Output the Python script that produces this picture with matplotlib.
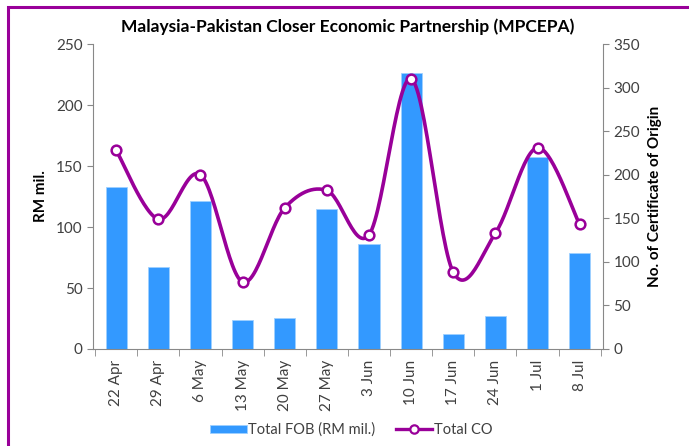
import numpy as np
import matplotlib.pyplot as plt
from matplotlib.patches import Rectangle

# Weekly data
weeks = ["22 Apr", "29 Apr", "6 May", "13 May", "20 May", "27 May",
         "3 Jun", "10 Jun", "17 Jun", "24 Jun", "1 Jul", "8 Jul"]
total_fob = [133, 67, 121, 24, 25, 115, 86, 226, 12, 27, 157, 79]
total_co = [228, 149, 200, 77, 162, 182, 131, 310, 88, 133, 231, 143]

BAR_COLOR = "#3399ff"
LINE_COLOR = "#990099"
TEXT_COLOR = "#404040"


def smooth_curve(x, y, steps=30):
    # Excel-style smoothed line: cubic Bezier segments with Catmull-Rom control points
    x = np.asarray(x, dtype=float)
    y = np.asarray(y, dtype=float)
    xs, ys = [], []
    n = len(x)
    for i in range(n - 1):
        p0 = np.array([x[max(i - 1, 0)], y[max(i - 1, 0)]])
        p1 = np.array([x[i], y[i]])
        p2 = np.array([x[i + 1], y[i + 1]])
        p3 = np.array([x[min(i + 2, n - 1)], y[min(i + 2, n - 1)]])
        c1 = p1 + (p2 - p0) / 6
        c2 = p2 - (p3 - p1) / 6
        t = np.linspace(0, 1, steps)[:, None]
        pts = ((1 - t) ** 3) * p1 + 3 * ((1 - t) ** 2) * t * c1 + 3 * (1 - t) * t ** 2 * c2 + t ** 3 * p2
        xs.extend(pts[:, 0])
        ys.extend(pts[:, 1])
    return np.array(xs), np.array(ys)


plt.rcParams['font.family'] = ['Lato', 'DejaVu Sans']

fig = plt.figure(figsize=(6.89, 4.46), dpi=100)
ax = fig.add_axes([0.135, 0.2175, 0.74, 0.6838])

# purple frame round the chart
fig.patches.append(Rectangle((8 / 689, -0.1), 1.2, 1 - 7 / 446 + 0.1, transform=fig.transFigure,
                             fill=False, edgecolor=LINE_COLOR, linewidth=2.2))

x = np.arange(len(weeks))
bars = ax.bar(x, total_fob, width=0.5, color=BAR_COLOR, edgecolor="#9fd0ff",
              linewidth=0.6, label="Total FOB (RM mil.)", zorder=2)

ax.set_xlim(-0.55, len(weeks) - 0.45)
ax.set_ylim(0, 250)
ax.set_yticks(np.arange(0, 251, 50))
ax.set_xticks(x)
ax.set_xticklabels(weeks, rotation=90)
ax.set_xticks(np.arange(-0.5, len(weeks), 1), minor=True)
ax.tick_params(axis='x', which='major', length=0, pad=8, labelsize=11, labelcolor=TEXT_COLOR)
ax.tick_params(axis='x', which='minor', length=5, color="#888888", direction='out')
ax.tick_params(axis='y', length=4, color="#888888", labelsize=11, labelcolor=TEXT_COLOR)
for side in ['top', 'right']:
    ax.spines[side].set_visible(False)
for side in ['left', 'bottom']:
    ax.spines[side].set_color("#888888")
ax.set_ylabel("RM mil.", fontsize=11, fontweight='bold', color="black", labelpad=6)

ax2 = ax.twinx()
ax2.set_ylim(0, 350)
ax2.set_yticks(np.arange(0, 351, 50))
ax2.tick_params(axis='y', length=4, color="#888888", labelsize=11, labelcolor=TEXT_COLOR)
for side in ['top', 'left', 'bottom']:
    ax2.spines[side].set_visible(False)
ax2.spines['right'].set_color("#888888")
ax2.set_ylabel("No. of Certificate of Origin", fontsize=11, fontweight='bold',
               color="black", labelpad=6)

sx, sy = smooth_curve(x, total_co)
ax2.plot(sx, sy, color=LINE_COLOR, linewidth=2.6, zorder=3)
ax2.plot(x, total_co, linestyle='none', marker='o', markersize=7,
         markerfacecolor='white', markeredgecolor=LINE_COLOR, markeredgewidth=1.8, zorder=4)
line_handle, = ax2.plot([], [], color=LINE_COLOR, linewidth=2.4, marker='o', markersize=6,
                        markerfacecolor='white', markeredgecolor=LINE_COLOR, markeredgewidth=1.6)

ax.set_title("Malaysia-Pakistan Closer Economic Partnership (MPCEPA)",
             fontsize=12.5, fontweight='bold', pad=9)

fig.legend([bars, line_handle], ["Total FOB (RM mil.)", "Total CO"],
           loc='center', bbox_to_anchor=(0.51, 0.036), ncol=2, frameon=False,
           fontsize=10.5, handlelength=2.5, handleheight=0.5, handletextpad=0.1,
           columnspacing=1.4, labelcolor=TEXT_COLOR)

fig.savefig("out.png", dpi=100)
